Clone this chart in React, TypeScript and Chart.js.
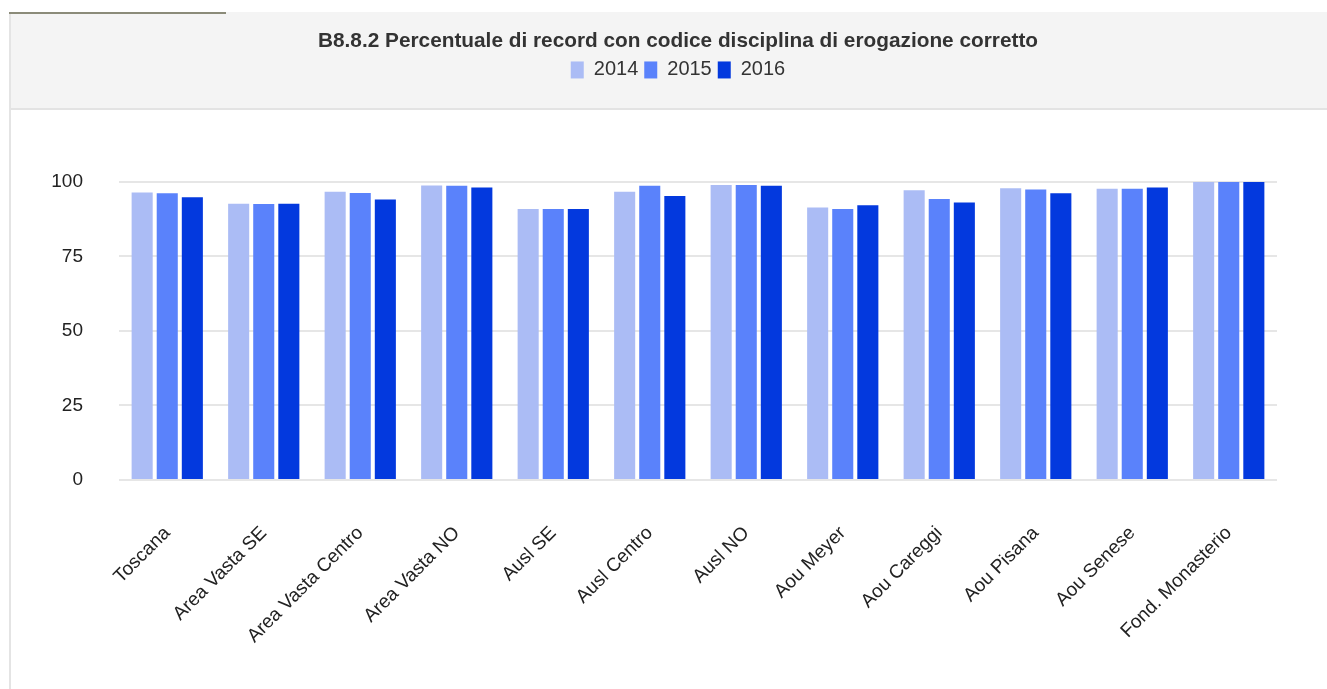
import React, { useEffect, useRef } from 'react';
import { Chart, registerables } from 'chart.js';

Chart.register(...registerables);

const titleText = 'B8.8.2 Percentuale di record con codice disciplina di erogazione corretto';
const categories = [
  'Toscana',
  'Area Vasta SE',
  'Area Vasta Centro',
  'Area Vasta NO',
  'Ausl SE',
  'Ausl Centro',
  'Ausl NO',
  'Aou Meyer',
  'Aou Careggi',
  'Aou Pisana',
  'Aou Senese',
  'Fond. Monasterio',
];
const seriesLabels = ['2014', '2015', '2016'];
const values2014 = [96.5, 92.7, 96.7, 98.8, 90.9, 96.7, 99.0, 91.4, 97.2, 97.9, 97.7, 100];
const values2015 = [96.2, 92.6, 96.3, 98.7, 90.9, 98.7, 99.0, 90.9, 94.3, 97.5, 97.7, 100];
const values2016 = [94.9, 92.7, 94.1, 98.1, 90.9, 95.3, 98.7, 92.2, 93.1, 96.2, 98.1, 100];
const seriesColors = ['#abbcf5', '#5a82fb', '#0339de'];
const yMin = 0;
const yMax = 100;
const yStep = 25;

const FONT = '"Liberation Sans", Arial, sans-serif';

export default function App() {
  const canvasRef = useRef<HTMLCanvasElement | null>(null);

  useEffect(() => {
    const canvas = canvasRef.current;
    if (!canvas) return;
    const seriesValues = [values2014, values2015, values2016];
    const chart = new Chart(canvas, {
      type: 'bar',
      data: {
        labels: categories,
        datasets: seriesLabels.map((label, i) => ({
          label,
          data: seriesValues[i],
          backgroundColor: seriesColors[i],
          borderWidth: 0,
          categoryPercentage: 0.78,
          barPercentage: 0.84,
          yAxisID: 'y',
        })),
      },
      options: {
        responsive: false,
        animation: false,
        devicePixelRatio: 1,
        layout: { padding: { left: 0, right: 0, top: 0, bottom: 0 } },
        plugins: {
          title: {
            display: true,
            text: titleText,
            color: '#333333',
            font: { family: FONT, size: 20.8, weight: 'bold' },
            padding: { top: 29, bottom: 0 },
          },
          subtitle: {
            display: true,
            text: ' ',
            weight: 500,
            font: { family: FONT, size: 10 },
            padding: { top: 80, bottom: 0 },
          } as any,
          legend: {
            display: true,
            position: 'top',
            labels: {
              color: '#333333',
              font: { family: FONT, size: 20 },
              boxWidth: 13,
              boxHeight: 17,
              padding: 6,
            },
          },
          tooltip: { enabled: false },
        },
        scales: {
          x: {
            grid: { display: false },
            border: { display: false },
            ticks: {
              color: '#222222',
              font: { family: FONT, size: 19 },
              minRotation: 45,
              maxRotation: 45,
              autoSkip: false,
              padding: 34,
            },
            afterFit: (scale: any) => {
              scale.height = 209;
            },
          },
          y: {
            min: yMin,
            max: yMax,
            grid: { color: '#e6e6e6', lineWidth: 2, drawTicks: false },
            border: { display: false },
            ticks: {
              stepSize: yStep,
              color: '#222222',
              font: { family: FONT, size: 19 },
              padding: 36,
            },
            afterFit: (scale: any) => {
              scale.width = 119;
            },
          },
          yRight: {
            position: 'right',
            display: true,
            grid: { display: false },
            border: { display: false },
            ticks: { display: false },
            afterFit: (scale: any) => {
              scale.width = 79;
            },
          },
        },
      },
    });
    return () => chart.destroy();
  }, []);

  return (
    <div
      style={{
        position: 'fixed',
        left: 0,
        top: 0,
        width: 1327,
        height: 689,
        overflow: 'hidden',
        background: '#ffffff',
      }}
    >
      <div
        style={{
          position: 'absolute',
          left: 10,
          top: 12,
          width: 1400,
          height: 96,
          background: '#f4f4f4',
          borderBottom: '2px solid #e3e3e3',
        }}
      />
      <div
        style={{ position: 'absolute', left: 9, top: 12, width: 2, height: 700, background: '#e4e4e4' }}
      />
      <div
        style={{ position: 'absolute', left: 9, top: 12, width: 217, height: 2, background: '#8b8b79' }}
      />
      <canvas
        ref={canvasRef}
        width={1356}
        height={689}
        style={{ position: 'absolute', left: 0, top: 0, width: 1356, height: 689 }}
      />
    </div>
  );
}
